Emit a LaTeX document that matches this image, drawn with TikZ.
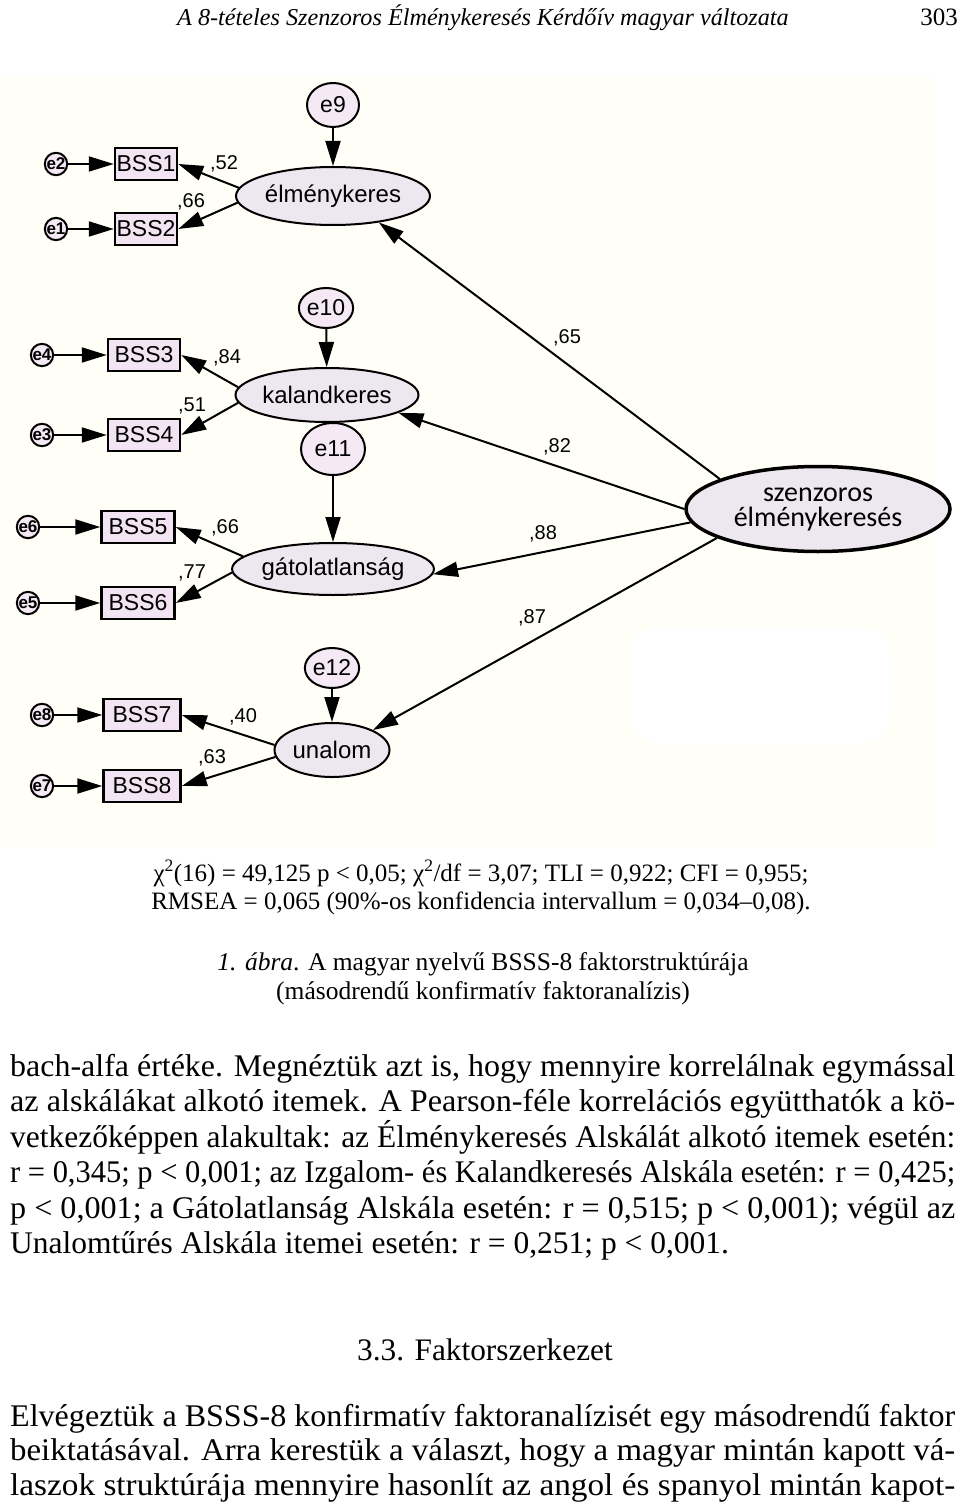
\documentclass[tikz,border=0pt]{standalone}
\usepackage{fontspec}
\usepackage{graphicx}
\setmainfont{Liberation Serif}
\newfontfamily\amosfont{Liberation Sans}
\newfontfamily\calfont{Carlito}
\usetikzlibrary{positioning,arrows.meta,shapes.geometric}
\definecolor{cream}{RGB}{255,255,247}
\definecolor{itemfill}{RGB}{243,228,243}
\definecolor{latfill}{RGB}{237,231,239}
\definecolor{resfill}{RGB}{245,233,245}
\newcommand{\fitline}[1]{\resizebox{945pt}{\height}{#1}}

\begin{document}
\begin{tikzpicture}[x=1pt,y=-1pt,
  >={Triangle[length=25pt,width=15pt]},
  item/.style={draw, line width=2.5pt, fill=itemfill, minimum height=32pt, inner sep=0pt, font=\amosfont\fontsize{23}{23}\selectfont},
  factor/.style={ellipse, draw, line width=2pt, fill=latfill, inner sep=0pt, font=\amosfont\fontsize{24}{24}\selectfont},
  resid/.style={ellipse, draw, line width=2pt, fill=resfill, inner sep=0pt, font=\amosfont\fontsize{23}{23}\selectfont},
  err/.style={circle, draw, line width=2pt, fill=resfill, minimum size=22pt, inner sep=0pt, font=\amosfont\bfseries\fontsize{17}{17}\selectfont},
  load/.style={inner sep=0pt, font=\amosfont\fontsize{20}{20}\selectfont},
  arr/.style={->, line width=2pt},
  bodyline/.style={anchor=base west, inner sep=0pt, font=\fontsize{31.5}{34}\selectfont},
  midline/.style={anchor=base, inner sep=0pt}
]
% page and the pasted AMOS figure
\useasboundingbox[fill=white] (0,0) rectangle (960,1511);
\fill[cream] (0,76) rectangle (933,847);
\fill[white, rounded corners=30pt] (628,627) rectangle (893,743);

% second order factor
\node[ellipse, draw, line width=3.5pt, fill=latfill, minimum width=264pt, minimum height=85pt, inner sep=0pt,
  align=center, font=\calfont\fontsize{28}{25}\selectfont] (sz) at (818,509) {szenzoros\\élménykeresés};

% first order factors
\node[factor, minimum width=194pt, minimum height=58pt] (elm) at (333,196) {élménykeres};
\node[factor, minimum width=173pt, minimum height=54pt] (kal) at (327,395) {kalandkeres};
\node[factor, minimum width=187pt, minimum height=52pt] (gat) at (333,569) {gátolatlanság};
\node[factor, minimum width=115pt, minimum height=54pt] (una) at (332,750) {unalom};

% disturbances
\node[resid, minimum width=52pt, minimum height=44pt] (e9) at (333,105) {e9};
\node[resid, minimum width=48pt, minimum height=40pt] (e10) at (326,308) {e10};
\node[resid, minimum width=64pt, minimum height=52pt] (e11) at (333,449) {e11};
\node[resid, minimum width=48pt, minimum height=40pt] (e12) at (332,668) {e12};

% items
\node[item, minimum width=62pt] (bss1) at (146,164) {BSS1};
\node[item, minimum width=62pt] (bss2) at (146,229) {BSS2};
\node[item, minimum width=72pt] (bss3) at (144,355) {BSS3};
\node[item, minimum width=72pt] (bss4) at (144,435) {BSS4};
\node[item, minimum width=73pt] (bss5) at (138,527) {BSS5};
\node[item, minimum width=73pt] (bss6) at (138,603) {BSS6};
\node[item, minimum width=77pt] (bss7) at (142,715) {BSS7};
\node[item, minimum width=77pt] (bss8) at (142,786) {BSS8};

% item errors
\node[err] (e2) at (56,164) {e2};
\node[err] (e1) at (56,229) {e1};
\node[err] (e4) at (42,355) {e4};
\node[err] (e3) at (42,435) {e3};
\node[err] (e6) at (28,527) {e6};
\node[err] (e5) at (28,603) {e5};
\node[err] (e8) at (42,715) {e8};
\node[err] (e7) at (42,786) {e7};

\draw[arr] (e2) -- (bss1);
\draw[arr] (e1) -- (bss2);
\draw[arr] (e4) -- (bss3);
\draw[arr] (e3) -- (bss4);
\draw[arr] (e6) -- (bss5);
\draw[arr] (e5) -- (bss6);
\draw[arr] (e8) -- (bss7);
\draw[arr] (e7) -- (bss8);

\draw[arr] (e9) -- (elm);
\draw[arr] (e10) -- (kal);
\draw[arr] (e11) -- (gat);
\draw[arr] (e12) -- (una);

% loadings
\draw[arr] (elm.175) -- (bss1.east);
\draw[arr] (elm.184) -- (bss2.east);
\draw[arr] (kal.175) -- (bss3.east);
\draw[arr] (kal.185) -- (bss4.east);
\draw[arr] (gat.172) -- (bss5.east);
\draw[arr] (gat.182) -- (bss6.east);
\draw[arr] (una.175) -- (bss7.east);
\draw[arr] (una.187) -- (bss8.east);

\draw[arr] (sz.163) -- (elm.-30);
\draw[arr] (sz.180) -- (kal.-14);
\draw[arr] (sz.186) -- (gat.-3);
\draw[arr] (sz.196) -- (una.26);

\node[load] (l1) at (224,164) {,52};
\node[load] (l2) at (191,202) {,66};
\node[load] (l3) at (227,358) {,84};
\node[load] (l4) at (192,406) {,51};
\node[load] (l5) at (225,528) {,66};
\node[load] (l6) at (192,573) {,77};
\node[load] (l7) at (243,717) {,40};
\node[load] (l8) at (212,758) {,63};
\node[load] (l9) at (567,338) {,65};
\node[load] (l10) at (557,447) {,82};
\node[load] (l11) at (543,534) {,88};
\node[load] (l12) at (532,618) {,87};

% running head
\node[midline, font=\itshape\fontsize{24.2}{25}\selectfont] (head) at (483,26)
  {A 8-tételes Szenzoros Élménykeresés Kérdőív magyar változata};
\node[anchor=base east, inner sep=0pt, font=\fontsize{25}{25}\selectfont] (pnum) at (958,26) {303};

% caption
\node[midline, font=\fontsize{25}{25}\selectfont] (c1) at (481,881)
  {χ\textsuperscript{2}(16) = 49,125 p < 0,05; χ\textsuperscript{2}/df = 3,07; TLI = 0,922; CFI = 0,955;};
\node[midline, font=\fontsize{25}{25}\selectfont] (c2) at (481,909)
  {RMSEA = 0,065 (90\%-os konfidencia intervallum = 0,034–0,08).};
\node[midline, font=\fontsize{25.5}{25}\selectfont] (c3) at (483,970)
  {\textit{1. ábra}. A magyar nyelvű BSSS-8 faktorstruktúrája};
\node[midline, font=\fontsize{25.5}{25}\selectfont] (c4) at (483,999)
  {(másodrendű konfirmatív faktoranalízis)};

% body text
\node[bodyline] (b1) at (10,1076) {\fitline{bach-alfa értéke. Megnéztük azt is, hogy mennyire korrelálnak egymással}};
\node[bodyline] (b2) at (10,1111) {\fitline{az alskálákat alkotó itemek. A Pearson-féle korrelációs együtthatók a kö-}};
\node[bodyline] (b3) at (10,1147) {\fitline{vetkezőképpen alakultak: az Élménykeresés Alskálát alkotó itemek esetén:}};
\node[bodyline] (b4) at (10,1182) {\fitline{r = 0,345; p < 0,001; az Izgalom- és Kalandkeresés Alskála esetén: r = 0,425;}};
\node[bodyline] (b5) at (10,1218) {\fitline{p < 0,001; a Gátolatlanság Alskála esetén: r = 0,515; p < 0,001); végül az}};
\node[bodyline] (b6) at (10,1253) {Unalomtűrés Alskála itemei esetén: r = 0,251; p < 0,001.};

\node[midline, font=\fontsize{31.3}{30}\selectfont] (sec) at (485,1360) {3.3. Faktorszerkezet};

\node[bodyline] (p1) at (10,1426) {\fitline{Elvégeztük a BSSS-8 konfirmatív faktoranalízisét egy másodrendű faktor}};
\node[bodyline] (p2) at (10,1460) {\fitline{beiktatásával. Arra kerestük a választ, hogy a magyar mintán kapott vá-}};
\node[bodyline] (p3) at (10,1495) {\fitline{laszok struktúrája mennyire hasonlít az angol és spanyol mintán kapot-}};
\end{tikzpicture}
\end{document}
